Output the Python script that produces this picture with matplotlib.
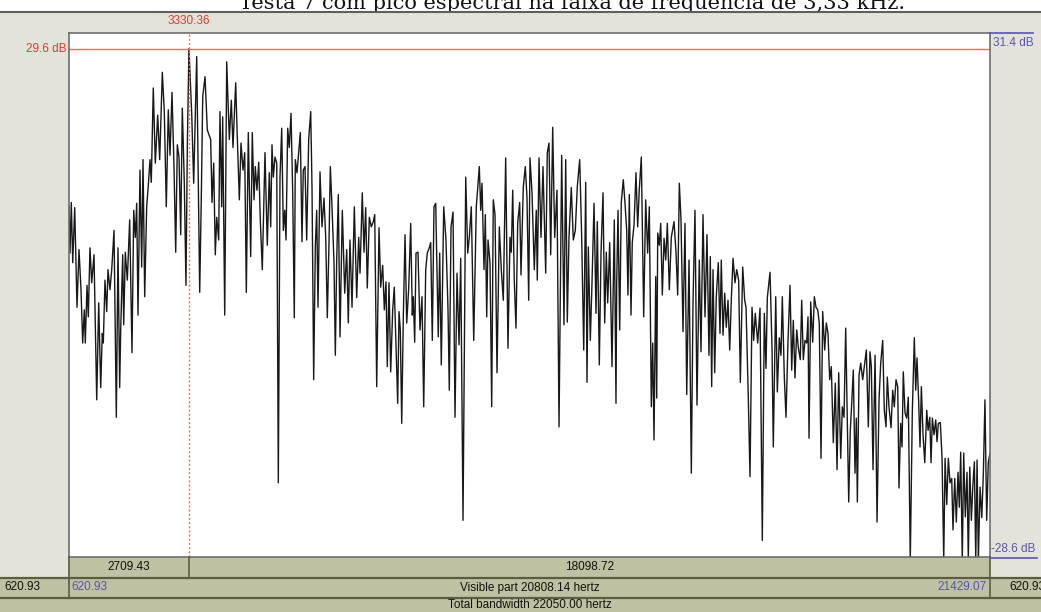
import matplotlib
matplotlib.use("Agg")
import matplotlib.pyplot as plt
from matplotlib.patches import Rectangle
from matplotlib.lines import Line2D
from matplotlib.transforms import blended_transform_factory

# Spectrum slice (frequency in Hz, level in dB), read point by point
freq_hz = [
    621, 644, 673, 705, 750, 802, 847, 892, 930, 967, 989, 1028, 1057, 1095, 1134, 1186,
    1247, 1292, 1337, 1373, 1396, 1434, 1473, 1502, 1547, 1586, 1638, 1690, 1728, 1766,
    1789, 1834, 1857, 1893, 1938, 1954, 1992, 2044, 2083, 2119, 2150, 2180, 2225, 2263,
    2293, 2331, 2376, 2413, 2451, 2480, 2525, 2571, 2625, 2670, 2729, 2774, 2819, 2864,
    2903, 2948, 2993, 3032, 3068, 3106, 3145, 3181, 3226, 3264, 3294, 3330.36, 3393, 3438,
    3506, 3574, 3610, 3642, 3694, 3746, 3822, 3852, 3890, 3926, 3958, 4003, 4032, 4071,
    4093, 4139, 4184, 4243, 4288, 4326, 4387, 4423, 4469, 4507, 4552, 4591, 4627, 4672,
    4726, 4762, 4801, 4830, 4868, 4907, 4943, 4988, 5049, 5101, 5146, 5178, 5207, 5237,
    5275, 5314, 5350, 5388, 5427, 5463, 5495, 5524, 5562, 5598, 5637, 5675, 5711, 5734,
    5772, 5802, 5847, 5885, 5914, 5953, 5991, 6036, 6082, 6111, 6149, 6186, 6217, 6247,
    6292, 6337, 6382, 6421, 6457, 6495, 6525, 6563, 6608, 6638, 6669, 6705, 6744, 6796,
    6850, 6895, 6931, 6969, 7015, 7067, 7121, 7166, 7196, 7247, 7286, 7324, 7360, 7406,
    7451, 7496, 7528, 7573, 7625, 7663, 7708, 7745, 7783, 7812, 7851, 7889, 7934, 7970,
    8009, 8047, 8077, 8106, 8138, 8174, 8213, 8251, 8296, 8341, 8377, 8400, 8431, 8461,
    8506, 8551, 8596, 8635, 8680, 8716, 8761, 8793, 8829, 8867, 8906, 8964, 8996, 9032,
    9087, 9138, 9184, 9213, 9252, 9297, 9342, 9387, 9433, 9471, 9523, 9584, 9629, 9665,
    9710, 9765, 9823, 9891, 9923, 9952, 9997, 10027, 10058, 10088, 10133, 10171, 10207,
    10246, 10291, 10343, 10388, 10433, 10487, 10539, 10584, 10614, 10646, 10681, 10720,
    10758, 10803, 10833, 10885, 10930, 10968, 11007, 11036, 11082, 11133, 11178, 11201,
    11240, 11285, 11330, 11391, 11427, 11466, 11504, 11549, 11594, 11646, 11692, 11752,
    11804, 11843, 11879, 11917, 11969, 12015, 12060, 12105, 12159, 12204, 12250, 12295,
    12324, 12354, 12399, 12437, 12483, 12528, 12557, 12602, 12641, 12686, 12724, 12760,
    12792, 12837, 12889, 12941, 12979, 12995, 13025, 13063, 13099, 13144, 13183, 13221,
    13250, 13280, 13318, 13347, 13386, 13431, 13469, 13505, 13551, 13605, 13650, 13695,
    13732, 13777, 13809, 13838, 13877, 13899, 13922, 13958, 13990, 14026, 14065, 14103,
    14139, 14184, 14229, 14290, 14335, 14373, 14410, 14448, 14493, 14538, 14577, 14629,
    14681, 14719, 14764, 14809, 14861, 14899, 14945, 14990, 15035, 15080, 15110, 15141,
    15171, 15209, 15245, 15290, 15329, 15358, 15397, 15435, 15471, 15510, 15548, 15584,
    15623, 15668, 15706, 15751, 15788, 15842, 15887, 15917, 15968, 16007, 16052, 16090,
    16126, 16181, 16233, 16285, 16330, 16368, 16398, 16459, 16504, 16533, 16588, 16624,
    16669, 16707, 16737, 16782, 16820, 16866, 16911, 16949, 16985, 17023, 17062, 17098,
    17143, 17175, 17211, 17249, 17288, 17317, 17340, 17378, 17423, 17460, 17498, 17536,
    17572, 17611, 17649, 17694, 17731, 17769, 17807, 17844, 17889, 17934, 17973, 18011,
    18056, 18093, 18131, 18169, 18206, 18237, 18273, 18305, 18341, 18379, 18409, 18432,
    18470, 18508, 18553, 18590, 18635, 18680, 18718, 18748, 18786, 18832, 18877, 18922,
    18960, 19005, 19041, 19080, 19109, 19147, 19193, 19231, 19267, 19306, 19344, 19373,
    19411, 19441, 19470, 19509, 19547, 19583, 19628, 19674, 19719, 19751, 19780, 19819,
    19848, 19878, 19916, 19955, 20000, 20030, 20068, 20097, 20127, 20164, 20203, 20232,
    20262, 20307, 20346, 20384, 20414, 20452, 20488, 20525, 20564, 20593, 20632, 20668,
    20706, 20736, 20767, 20803, 20835, 20871, 20910, 20939, 20972, 21008, 21040, 21076,
    21107, 21137, 21166, 21205, 21243, 21279, 21315, 21354, 21390, 21429,
]
level_db = [
    11.5, 6.2, 12.0, 5.1, 11.4, 0.0, 6.6, 2.0, -4.1, -0.3, -4.1, 2.5, -1.1, 6.8, 2.8, 6.0,
    -10.6, 0.5, -9.2, -3.0, -4.1, 3.1, -0.5, 4.3, 2.0, 4.3, 8.8, -12.6, 6.8, -9.2,
    -2.6, 6.0, -2.0, 6.3, 3.1, 5.1, 10.0, -5.2, 11.1, 8.0, 11.9, -0.9, 15.7, 4.6,
    16.9, 1.2, 11.5, 14.0, 16.9, 14.3, 25.1, 16.5, 22.0, 16.9, 26.9, 22.4, 11.5, 22.6,
    17.4, 24.6, 16.1, 6.3, 18.6, 17.2, 8.3, 22.8, 14.2, 2.5, 18.3, 29.6, 22.2, 14.2,
    28.7, 1.7, 12.6, 24.1, 26.4, 20.3, 19.2, 12.0, 16.5, 6.0, 10.3, 7.7, 22.4, 11.5,
    21.8, -0.9, 28.1, 19.2, 23.7, 18.3, 25.7, 19.5, 12.3, 18.8, 15.7, 17.7, 1.7, 20.0,
    5.8, 20.0, 12.3, 16.1, 13.4, 16.6, 10.0, 4.3, 17.7, 7.1, 15.4, 9.2, 18.6, 14.9,
    17.2, 16.5, -20.1, 14.9, 20.5, 8.8, 11.1, 7.7, 20.5, 18.3, 22.2, 13.1, -1.2, 16.9,
    15.4, 17.2, 20.0, 7.5, 15.7, 16.1, 7.7, 19.2, 22.4, 13.8, -8.3, 6.9, 11.1, 0.0,
    15.5, 9.2, 12.5, 8.0, -1.2, 7.4, 16.1, 11.5, 5.1, -5.5, 5.4, 12.9, -3.4, 11.1,
    1.6, 6.6, -1.8, 7.7, 0.0, 11.5, 1.1, 8.0, 3.9, 13.1, 6.3, 11.4, 2.2, 10.3,
    9.2, 9.8, 10.6, -9.1, 9.1, 2.3, 4.8, -0.3, 2.9, -6.8, 2.8, -7.4, -0.3, 2.3,
    -4.3, -11.0, -0.5, -2.6, -13.3, -1.1, 8.3, -1.8, 2.2, 9.6, -0.9, 1.2, -4.0, 6.2,
    6.3, -2.6, 1.2, -11.4, 4.3, 6.2, 6.8, 7.4, -3.8, 11.5, 11.9, -3.4, 6.2, -6.6,
    11.5, 7.7, -0.3, -9.5, 9.2, 10.9, -12.6, 3.9, -4.3, 5.6, -24.4, 14.9, 6.2, 8.0,
    11.5, -3.8, 11.5, 16.1, 11.1, 14.2, 4.3, 10.6, -1.1, 7.7, 5.1, -11.4, 12.3,
    10.6, -7.5, 9.2, 4.3, 0.8, 17.1, -4.7, 8.0, 6.3, 13.4, 3.1, -2.4,
    9.6, 12.0, 3.7, 13.8, 16.1, 12.6, 0.8, 17.1, 13.1, 4.3, 11.1, 3.1,
    17.1, 8.0, 16.1, 3.9, 17.7, 18.8, 6.0, 20.6, 8.0, 13.4, -13.7, 17.4,
    -2.0, 16.9, -1.7, 8.0, 13.7, 7.7, 8.8, 13.8, 16.9, 8.0, -4.9, 14.3,
    -8.6, 6.9, -3.8, 2.8, 11.9, -0.7, 9.8, -6.6, 6.3, 13.1, -1.8, 6.3,
    0.5, 7.4, -6.8, 10.0, -11.0, 2.8, 11.1, -2.6, 12.0, 14.6, 11.9, 8.8,
    1.4, 12.9, -0.9, 7.4, 9.4, 15.4, 9.2, 13.4, 17.2, -1.1, 12.3, 6.2,
    11.5, -11.4, -4.1, -15.2, 3.5, -10.4, 8.5, 7.1, 9.6, 1.4, 7.9, 5.4,
    9.6, 2.0, 8.0, 9.8, 6.3, 1.4, 14.2, 10.0, -2.8, 9.6, -10.0, 5.4,
    -19.0, 0.5, 11.1, -11.2, 5.4, -5.1, 10.6, -1.1, 8.3, -5.5, 5.8, -9.1,
    4.3, -7.5, 1.2, 5.1, -3.0, 5.4, -3.2, 1.6, -2.3, 0.8, -4.9, 0.8,
    5.6, 2.8, 4.3, 3.1, -8.6, 4.6, 0.8, 0.0, -10.3, -19.4, 0.0, -3.8,
    -0.7, -4.1, -0.1, -26.7, -0.7, -7.0, 1.1, 4.0, -4.6, -16.0, 1.2, -9.7,
    -3.5, -5.5, 1.2, -8.0, -12.6, -3.8, 2.5, -7.2, -1.5, -8.1, -2.6, -4.6,
    -6.0, 0.8, -6.0, -3.8, -4.1, -1.1, -15.0, 0.6, -4.0, 1.2, 0.0, -0.3,
    -1.8, -17.3, -0.5, -4.9, -1.8, -3.0, -8.3, -6.8, -15.5, -8.7, -18.6, -7.5,
    -17.3, -11.4, -12.6, -2.4, -13.3, -22.3, -14.1, -11.0, -7.2, -19.0, -12.7, -22.3,
    -7.8, -6.4, -8.3, -6.8, -4.9, -13.7, -5.1, -6.8, -18.6, -5.5, -24.6, -10.6,
    -6.4, -3.8, -11.8, -13.7, -8.0, -11.4, -13.8, -9.5, -11.4, -8.3, -9.1, -20.7,
    -13.3, -16.0, -7.4, -12.1, -12.7, -10.3, -29.0, -12.0, -3.5, -9.5, -5.8, -11.0,
    -16.0, -9.1, -14.6, -17.8, -11.8, -14.1, -12.6, -17.8, -12.7, -14.6, -12.9, -15.4,
    -13.3, -13.2, -17.3, -29.0, -17.3, -22.6, -17.3, -20.1, -19.6, -25.5, -19.6, -24.6,
    -18.9, -22.9, -16.6, -29.0, -16.7, -24.0, -18.9, -29.0, -18.3, -24.4, -20.6, -17.7,
    -29.0, -17.5, -29.0, -20.6, -24.1, -19.0, -10.6, -24.4, -17.8, -16.7,
]

f_min, f_max = 620.93, 21429.073
db_min, db_max = -28.6, 31.4
peak_hz, peak_db = 3330.356, 29.6
total_bandwidth = 22050.00

W, H = 1041, 612
BEIGE = "#e3e3d9"
OLIVE = "#c0c0a2"
EDGE = "#5c5c40"
RED = "#e8372c"
BLUE = "#5a54b0"
FS = 8.5
SANS = "Liberation Sans"

fig = plt.figure(figsize=(W / 100, H / 100), dpi=100, facecolor="white")


def fx(x):
    return x / W


def fy(y):
    return 1 - y / H


def box(x0, y0, x1, y1, color):
    fig.patches.append(Rectangle((fx(x0), fy(y1)), fx(x1) - fx(x0), fy(y0) - fy(y1),
                                 transform=fig.transFigure, facecolor=color,
                                 edgecolor="none", zorder=-5))


def line(x0, y0, x1, y1, color, lw=1.0, ls="-"):
    fig.lines.append(Line2D([fx(x0), fx(x1)], [fy(y0), fy(y1)], transform=fig.transFigure,
                            color=color, lw=lw, ls=ls, zorder=5))


def label(x, y, s, color="#111111", ha="center"):
    fig.text(fx(x), fy(y), s, ha=ha, va="center", fontsize=FS, color=color, family=SANS)


# window background and bottom info rows
box(0, 12, W, H, BEIGE)
line(0, 12, W, 12, "#5e5e5e", 1.5)
box(69, 557, 990, 577, OLIVE)
box(0, 578, W, 597, OLIVE)
box(0, 598, W, H, OLIVE)
line(0, 577.5, W, 577.5, EDGE, 1.6)
line(0, 597.5, W, 597.5, EDGE, 1.6)
line(69, 557, 69, 597, EDGE, 1.2)
line(990, 557, 990, 597, EDGE, 1.2)

# caption of the document, partly cut by the top of the window
fig.text(fx(572), fy(9), "Testa 7 com pico espectral na faixa de frequência de 3,33 kHz.",
         ha="center", va="baseline", fontsize=15, family="DejaVu Serif", color="#111111")

ax = fig.add_axes([fx(69), fy(557), fx(990) - fx(69), fy(33) - fy(557)], zorder=2)
ax.set_facecolor("white")
ax.plot(freq_hz, level_db, color="#181818", lw=1.0)
ax.set_xlim(f_min, f_max)
ax.set_ylim(db_min, db_max)
ax.set_xticks([])
ax.set_yticks([])
for sp in ax.spines.values():
    sp.set_color("#6e6e6e")
    sp.set_linewidth(1.2)

# cursor at the spectral peak
ax.axhline(peak_db, color="#f06a60", lw=1.0)
ax.axvline(peak_hz, color="#f06a60", lw=1.0, ls=(0, (1.5, 1.5)))

tr_y = blended_transform_factory(ax.transAxes, ax.transData)
tr_x = blended_transform_factory(ax.transData, ax.transAxes)
ax.text(-0.003, peak_db, f"{peak_db:.1f} dB", transform=tr_y, ha="right", va="center",
        fontsize=FS, color=RED, family=SANS, clip_on=False)
ax.text(peak_hz, 1.022, f"{peak_hz:.2f}", transform=tr_x, ha="center", va="center",
        fontsize=FS, color=RED, family=SANS, clip_on=False)

# vertical range marks on the right
label(993, 42.5, f"{db_max:.1f} dB", BLUE, ha="left")
label(991, 549, f"{db_min:.1f} dB", BLUE, ha="left")
line(990, 33, 1033, 33, BLUE, 1.2)
line(990, 557.5, 1037, 557.5, BLUE, 1.2)

# row 1: widths left and right of the cursor
px_peak = 69 + (peak_hz - f_min) / (f_max - f_min) * 921
line(px_peak, 557, px_peak, 577, EDGE, 1.2)
label((69 + px_peak) / 2, 567.5, f"{peak_hz - f_min:.2f}")
label((px_peak + 990) / 2, 567.5, f"{f_max - peak_hz:.2f}")

# row 2: visible window
label(4, 587.5, f"{f_min:.2f}", ha="left")
label(71, 587.5, f"{f_min:.2f}", BLUE, ha="left")
label(529.5, 587.5, f"Visible part {f_max - f_min:.2f} hertz")
label(987, 587.5, f"{f_max:.2f}", BLUE, ha="right")
label(1009, 587.5, f"{f_min:.2f}", ha="left")

# row 3: total bandwidth
label(529.5, 605, f"Total bandwidth {total_bandwidth:.2f} hertz")

fig.savefig("out.png", dpi=100)
